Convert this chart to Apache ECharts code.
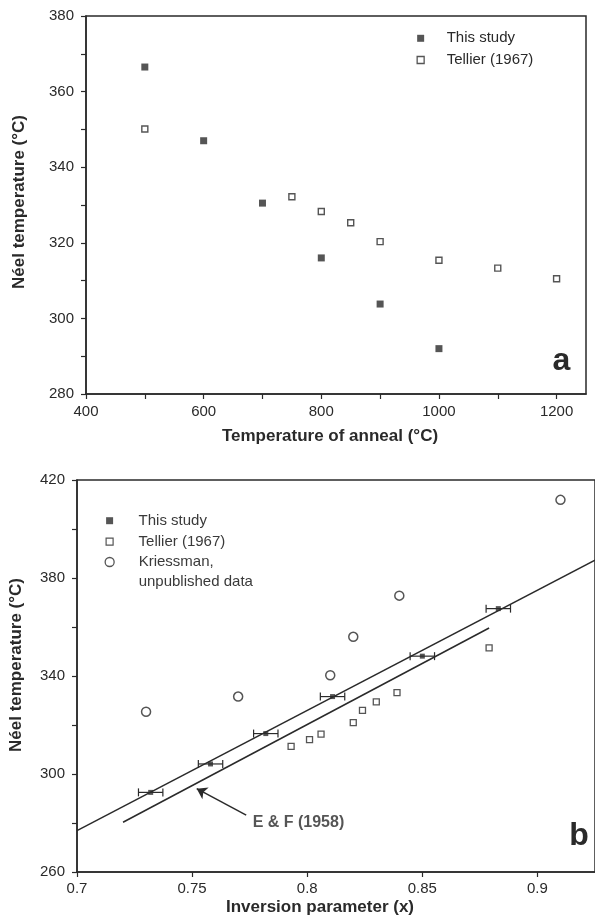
<!DOCTYPE html>
<html><head><meta charset="utf-8">
<script src="https://cdn.jsdelivr.net/npm/echarts@6/dist/echarts.min.js"></script>
<style>html,body{margin:0;padding:0;background:#fff}#c{width:595px;height:918px}</style>
</head><body><div id="c"></div>
<script>
// ---------- Panel a: Néel temperature vs temperature of anneal ----------
const annealStudy   = [500, 600, 700, 800, 900, 1000];
const neelStudyA    = [366.5, 347.0, 330.5, 316.0, 303.8, 292.0];
const annealTellier = [500, 750, 800, 850, 900, 1000, 1100, 1200];
const neelTellierA  = [350.1, 332.2, 328.3, 325.3, 320.3, 315.4, 313.3, 310.5];
const annealLabelTicks = [400, 600, 800, 1000, 1200];
const annealTicks      = [400, 500, 600, 700, 800, 900, 1000, 1100, 1200];
const neelALabelTicks  = [280, 300, 320, 340, 360, 380];
const neelATicks       = [280, 290, 300, 310, 320, 330, 340, 350, 360, 370, 380];

// ---------- Panel b: Néel temperature vs inversion parameter ----------
const invStudy      = [0.732, 0.758, 0.782, 0.811, 0.850, 0.883];
const neelStudyB    = [292.5, 304.1, 316.5, 331.6, 348.1, 367.5];
const invStudyErr   = [0.0053, 0.0053, 0.0053, 0.0053, 0.0053, 0.0053];
const invTellier    = [0.793, 0.801, 0.806, 0.820, 0.824, 0.830, 0.839, 0.879];
const neelTellierB  = [311.3, 314.0, 316.3, 321.0, 326.0, 329.4, 333.2, 351.5];
const invKriess     = [0.730, 0.770, 0.810, 0.820, 0.840, 0.910];
const neelKriess    = [325.4, 331.6, 340.3, 356.0, 372.8, 411.9];
const fitLineX      = [0.700, 0.925];
const fitLineY      = [276.9, 387.3];
const efLineX       = [0.720, 0.879];
const efLineY       = [280.3, 359.6];
const arrowTail     = [0.7735, 283.2];
const arrowTip      = [0.752, 294.0];
const efLabelPos    = [0.7763, 280.2];
const invLabelTicks  = [0.7, 0.75, 0.8, 0.85, 0.9];
const neelBLabelTicks = [260, 300, 340, 380, 420];
const neelBTicks      = [260, 280, 300, 320, 340, 360, 380, 400, 420];

const zip = (xs, ys) => xs.map((x, i) => [x, ys[i]]);
const FONT = '"Liberation Sans", Arial, Helvetica, sans-serif';
const INK = '#2a2a2a';

function xAx(o) {
  return Object.assign({
    type: 'value', splitLine: { show: false },
    axisLine: { show: true, onZero: false, lineStyle: { color: INK, width: 1.5 } },
    nameLocation: 'middle'
  }, o);
}
const lbl = (vals, margin) => ({ customValues: vals, color: INK, fontSize: 15, fontFamily: FONT, margin: margin,
  formatter: (v) => String(v) });
const tck = (vals) => ({ show: true, customValues: vals, length: 5, lineStyle: { color: INK, width: 1.2 } });
const nameStyle = (pad) => ({ fontWeight: 'bold', fontSize: 17, color: INK, fontFamily: FONT, padding: pad });

const chart = echarts.init(document.getElementById('c'), null, { renderer: 'canvas' });
chart.setOption({
  animation: false,
  backgroundColor: '#fff',
  grid: [
    { left: 86, top: 16, width: 500, height: 378, show: true, borderColor: INK, borderWidth: 1.5 },
    { left: 75, top: 480, width: 540, height: 392, show: true, borderColor: INK, borderWidth: 1.5 }
  ],
  xAxis: [
    xAx({ gridIndex: 0, min: 400, max: 1250, interval: 50,
      axisLabel: lbl(annealLabelTicks, 10), axisTick: tck(annealTicks),
      name: 'Temperature of anneal (°C)', nameGap: 34, nameTextStyle: nameStyle([0, 12, 0, 0]) }),
    xAx({ gridIndex: 1, min: 0.7, max: 0.925, interval: 0.025,
      axisLabel: lbl(invLabelTicks, 9), axisTick: tck(invLabelTicks),
      name: 'Inversion parameter (x)', nameGap: 27, nameTextStyle: nameStyle([0, 32, 0, 0]) })
  ],
  yAxis: [
    xAx({ gridIndex: 0, min: 280, max: 380, interval: 10,
      axisLabel: lbl(neelALabelTicks, 12), axisTick: tck(neelATicks),
      name: 'Néel temperature (°C)', nameGap: 58, nameTextStyle: nameStyle([0, 0, 0, 6]) }),
    xAx({ gridIndex: 1, min: 260, max: 420, interval: 20,
      axisLabel: lbl(neelBLabelTicks, 12), axisTick: tck(neelBTicks),
      name: 'Néel temperature (°C)', nameGap: 52, nameTextStyle: nameStyle([0, 0, 0, 22]) })
  ],
  legend: [
    { left: 416.5, top: 28.3, orient: 'vertical', padding: 0, itemGap: 1.7, itemWidth: 7, itemHeight: 7,
      selectedMode: false,
      data: [{ name: 'This study', itemStyle: { borderWidth: 0 } }, { name: 'Tellier (1967)', itemStyle: { borderWidth: 1.3 } }],
      textStyle: { color: INK, fontSize: 15, lineHeight: 20, fontFamily: FONT, padding: [0, 0, 0, 17.5] } },
    { left: 105.5, top: 510.7, orient: 'vertical', padding: 0, itemGap: 1, itemWidth: 7, itemHeight: 7,
      selectedMode: false,
      data: [{ name: 'This study', itemStyle: { borderWidth: 0 } }, { name: 'Tellier (1967)', itemStyle: { borderWidth: 1.2 } }],
      textStyle: { color: '#3a3a3a', fontSize: 15, lineHeight: 20, fontFamily: FONT, padding: [0, 0, 0, 20.5] } },
    { left: 104.5, top: 532, orient: 'vertical', padding: 0, itemWidth: 9, itemHeight: 9,
      selectedMode: false,
      formatter: (name) => '\n' + name,
      data: [{ name: 'Kriessman,\nunpublished data', itemStyle: { borderWidth: 1.3 } }],
      textStyle: { color: '#3a3a3a', fontSize: 15, lineHeight: 20, fontFamily: FONT, padding: [0, 0, 0, 19.5] } }
  ],
  series: [
    { name: 'This study', type: 'scatter', xAxisIndex: 0, yAxisIndex: 0, symbol: 'rect', symbolSize: 7,
      itemStyle: { color: INK }, data: zip(annealStudy, neelStudyA) },
    { name: 'Tellier (1967)', type: 'scatter', xAxisIndex: 0, yAxisIndex: 0, symbol: 'rect', symbolSize: 6,
      itemStyle: { color: '#fff', borderColor: INK, borderWidth: 1.4 }, data: zip(annealTellier, neelTellierA) },

    { name: 'fit', type: 'line', xAxisIndex: 1, yAxisIndex: 1, symbol: 'none', silent: true,
      lineStyle: { color: INK, width: 1.5 }, data: zip(fitLineX, fitLineY) },
    { name: 'E & F (1958) line', type: 'line', xAxisIndex: 1, yAxisIndex: 1, symbol: 'none', silent: true,
      lineStyle: { color: INK, width: 1.5 }, data: zip(efLineX, efLineY),
      markLine: { silent: true, symbol: ['none', 'arrow'], symbolSize: 10,
        lineStyle: { color: INK, width: 1.5, type: 'solid' }, label: { show: false },
        data: [[{ coord: arrowTail }, { coord: arrowTip }]] } },
    { name: 'error bars', type: 'custom', xAxisIndex: 1, yAxisIndex: 1, silent: true, z: 3,
      data: invStudy.map((x, i) => [x, neelStudyB[i], invStudyErr[i]]),
      encode: { x: 0, y: 1 },
      renderItem: function (params, api) {
        const x = api.value(0), y = api.value(1), e = api.value(2);
        const p1 = api.coord([x - e, y]), p2 = api.coord([x + e, y]);
        const h = 4, st = { stroke: INK, lineWidth: 1.2 };
        return { type: 'group', children: [
          { type: 'line', shape: { x1: p1[0], y1: p1[1], x2: p2[0], y2: p2[1] }, style: st },
          { type: 'line', shape: { x1: p1[0], y1: p1[1] - h, x2: p1[0], y2: p1[1] + h }, style: st },
          { type: 'line', shape: { x1: p2[0], y1: p2[1] - h, x2: p2[0], y2: p2[1] + h }, style: st }
        ] };
      } },
    { name: 'This study', type: 'scatter', xAxisIndex: 1, yAxisIndex: 1, symbol: 'rect', symbolSize: 5, z: 4,
      itemStyle: { color: INK }, data: zip(invStudy, neelStudyB) },
    { name: 'Tellier (1967)', type: 'scatter', xAxisIndex: 1, yAxisIndex: 1, symbol: 'rect', symbolSize: 6,
      itemStyle: { color: '#fff', borderColor: INK, borderWidth: 1.3 }, data: zip(invTellier, neelTellierB) },
    { name: 'Kriessman,\nunpublished data', type: 'scatter', xAxisIndex: 1, yAxisIndex: 1, symbol: 'circle', symbolSize: 9,
      itemStyle: { color: '#fff', borderColor: INK, borderWidth: 1.5 }, data: zip(invKriess, neelKriess) },
    { name: 'E & F label', type: 'scatter', xAxisIndex: 1, yAxisIndex: 1, symbolSize: 0, silent: true,
      data: [efLabelPos],
      label: { show: true, position: 'right', distance: 0, formatter: 'E & F (1958)',
        color: INK, fontWeight: 'bold', fontSize: 16, fontFamily: FONT } }
  ],
  graphic: [
    { type: 'text', x: 561.5, y: 360.7, style: { text: 'a', font: 'bold 32px ' + FONT, fill: INK, align: 'center', verticalAlign: 'middle' } },
    { type: 'text', x: 579, y: 836, style: { text: 'b', font: 'bold 32px ' + FONT, fill: INK, align: 'center', verticalAlign: 'middle' } }
  ]
});
</script></body></html>
